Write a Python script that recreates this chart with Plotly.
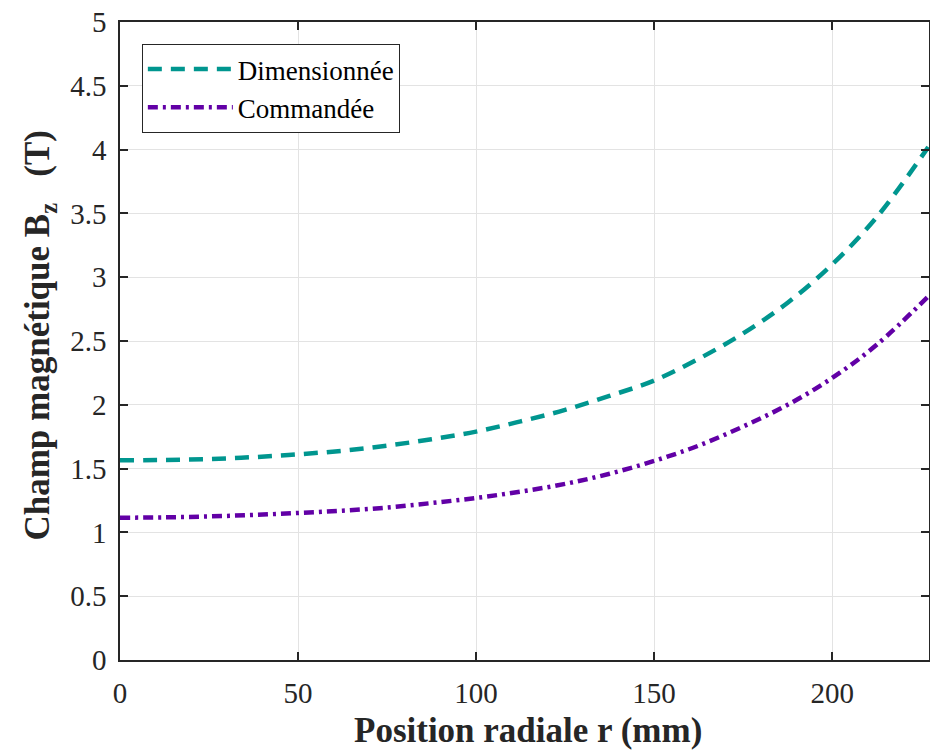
import plotly.graph_objects as go

r_mm = [0, 12.5, 25, 37.5, 50, 62.5, 75, 87.5, 100, 112.5, 125, 137.5, 150, 162.5, 175, 187.5, 200, 212.5, 227]
bz_dimensionnee = [1.565, 1.568, 1.575, 1.59, 1.612, 1.64, 1.68, 1.73, 1.79, 1.87, 1.96, 2.07, 2.19, 2.36, 2.56, 2.80, 3.10, 3.47, 4.02]
bz_commandee = [1.115, 1.118, 1.125, 1.137, 1.152, 1.17, 1.195, 1.23, 1.27, 1.32, 1.38, 1.46, 1.56, 1.68, 1.83, 2.00, 2.21, 2.47, 2.85]

x_ticks = [0, 50, 100, 150, 200]
y_ticks = [0, 0.5, 1, 1.5, 2, 2.5, 3, 3.5, 4, 4.5, 5]
y_tick_labels = ["0", "0.5", "1", "1.5", "2", "2.5", "3", "3.5", "4", "4.5", "5"]

FONT = "Liberation Serif, Times New Roman, serif"

fig = go.Figure()
fig.add_trace(go.Scatter(
    x=r_mm, y=bz_dimensionnee, mode="lines", name="Dimensionnée",
    line=dict(color="#00968f", width=4.5, dash="14px,9px", shape="spline"),
))
fig.add_trace(go.Scatter(
    x=r_mm, y=bz_commandee, mode="lines", name="Commandée",
    line=dict(color="#6200a6", width=4.5, dash="10px,5px,3px,5px", shape="spline"),
))

axis_common = dict(
    showgrid=True, gridcolor="#e3e3e3", gridwidth=1,
    showline=True, linecolor="#262626", linewidth=1.5, mirror="ticks",
    ticks="inside", ticklen=8, tickwidth=1.5, tickcolor="#262626",
    zeroline=False,
    tickfont=dict(family=FONT, size=29, color="#262626"),
)

fig.update_layout(
    width=930, height=751,
    margin=dict(l=120, r=1, t=22, b=91, autoexpand=False),
    plot_bgcolor="white", paper_bgcolor="white",
    font=dict(family=FONT, color="#262626", size=27),
    showlegend=True,
    legend=dict(
        x=0.027, y=0.9655, xanchor="left", yanchor="top",
        bgcolor="white", bordercolor="#262626", borderwidth=1,
        font=dict(family=FONT, size=27, color="#000000"),
        itemwidth=85, tracegroupgap=0,
    ),
    xaxis=dict(
        range=[0, 227.2], tickvals=x_ticks,
        ticklabelstandoff=6,
        **axis_common,
    ),
    yaxis=dict(
        range=[0, 5], tickvals=y_ticks, ticktext=y_tick_labels,
        ticklabelstandoff=6,
        **axis_common,
    ),
    annotations=[
        dict(text="<b>Position radiale r (mm)</b>", xref="paper", yref="paper",
             x=0.504, y=-0.11, xanchor="center", yanchor="middle", showarrow=False,
             font=dict(family=FONT, size=35, color="#262626")),
        dict(text="<b>Champ magnétique B<sub>z</sub>   (T)</b>", xref="paper", yref="paper",
             x=-0.099, y=0.51, xanchor="center", yanchor="middle", showarrow=False, textangle=-90,
             font=dict(family=FONT, size=35, color="#262626")),
    ],
)

fig.write_html("out.html", config={"displayModeBar": False},
               post_script="document.body.style.margin='0';document.body.style.overflow='hidden';")
